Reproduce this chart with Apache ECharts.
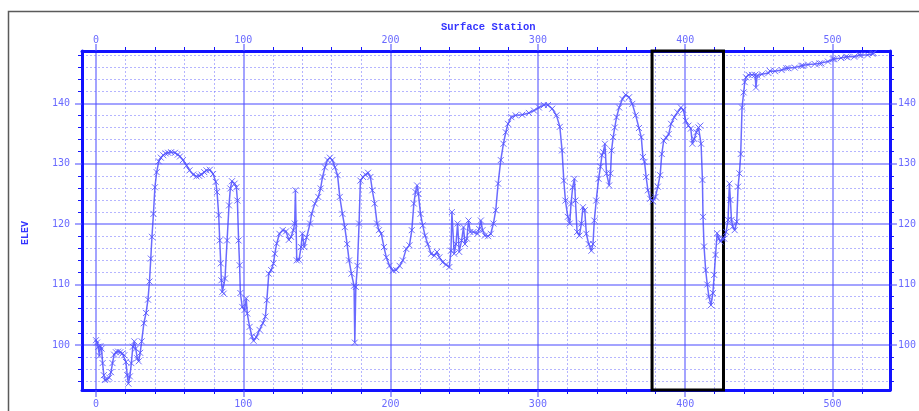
<!DOCTYPE html>
<html>
<head>
<meta charset="utf-8">
<title>Surface Station profile</title>
<script src="https://cdn.jsdelivr.net/npm/echarts@6/dist/echarts.min.js"></script>
<style>
  html, body { margin: 0; padding: 0; background: #ffffff; }
  #chart { width: 919px; height: 411px; }
</style>
</head>
<body>
<div id="chart"></div>
<script>
// Surveyed profile: station along the line and ground elevation at that station
const stations = [
  0, 0.7, 1.5, 2.3, 3, 3.8, 4.5, 5.3, 6, 7.5, 9, 10.2, 11.2, 12.3, 13.5, 15, 16.5, 18, 19.2, 20.3,
  21.2, 22, 23, 24, 25, 26, 27, 28, 29, 30, 31, 32.5, 34, 35.3, 36.3, 37.2, 38, 39, 40, 41.2,
  42.6, 44, 45.7, 47.3, 49, 51, 53.6, 55.5, 57, 59, 61.5, 63.5, 66, 68.2, 70, 71.6, 73.5, 75, 77.3, 79.5,
  81.3, 82.2, 83.3, 84, 84.7, 85.1, 85.8, 86.7, 87.6, 89, 90.3, 91.2, 92.3, 94.1, 95.3, 96, 96.8, 97.5, 98, 99.3,
  100.9, 102, 102.7, 104.3, 105.9, 107, 108.8, 111, 113.3, 115, 116, 117.3, 118.9, 120.5, 121.4, 122.7, 124.5, 126.8, 129, 130.9,
  132.4, 134, 134.9, 135.4, 136.3, 137.8, 139.2, 140.1, 141.4, 143, 145.3, 146.4, 148.6, 150.9, 152.5, 153.8, 155.4, 157.2, 158.8, 160.4,
  162.2, 164, 165.5, 167.3, 168.9, 170.5, 171.8, 173.4, 175.2, 175.7, 176.4, 177.5, 178.6, 179.5, 181.3, 182.9, 184.7, 186.3, 187.6, 189.2,
  190.8, 192.1, 193.7, 195.5, 197.1, 199.3, 201.6, 203.8, 206.1, 208.3, 210.6, 212.8, 214.4, 215.8, 216.9, 218, 218.9, 220.3, 221.8, 223.4,
  225.2, 227.5, 229.7, 231.5, 233.1, 235.4, 237.6, 239.9, 241, 241.6, 243.2, 244.4, 245.5, 246.6, 248.2, 249.5, 250.5, 251.8, 252.9, 254.1,
  256.3, 259, 260.1, 261.3, 262.4, 264, 266.2, 268, 269.8, 271.4, 273, 274.8, 276.6, 278.2, 279.7, 282, 284.9, 289.4, 293.9, 297.3,
  300.7, 304.1, 306.8, 309.7, 312.6, 314.9, 316.4, 317.6, 318.7, 320.3, 321.6, 322.5, 323.6, 324.8, 325.5, 326.6, 328.2, 329.5, 330.6, 331.8,
  332.9, 334.5, 336.3, 337.4, 338.3, 339.6, 341.2, 342.5, 343.5, 344.4, 345.5, 346.6, 348.4, 349.3, 350, 351.1, 352.2, 353.4, 355.2, 357.4,
  359.6, 361.9, 364.1, 366.4, 368.6, 370.2, 371.3, 372.4, 373.5, 374.7, 376.2, 378, 379.8, 381.4, 383, 384.1, 385.4, 387, 388.8, 390.4,
  392.6, 394.8, 397.1, 398.7, 400.4, 402.2, 403.8, 404.9, 406.1, 407.6, 409, 410.3, 410.8, 411.7, 412.1, 412.8, 413.9, 415, 416.1, 417.5,
  418.8, 419.7, 420.6, 421.7, 422.9, 424, 425.1, 426.5, 427.8, 429.1, 430, 430.7, 431.4, 432.3, 433.6, 435, 435.9, 436.8, 437.7, 438.6,
  439.7, 440.4, 441.3, 443, 445.3, 447.5, 448, 448.9, 452, 456.5, 457.5, 461, 465.5, 468.7, 470, 474.4, 478.9, 480, 483.4, 487.9,
  491.2, 492.4, 496.9, 500.2, 501.3, 505.8, 509.3, 510.3, 514.8, 518.2, 519.3, 523.8, 527.1, 528
];
const elevations = [
  100.8, 100.4, 99.7, 98.2, 99.8, 99.4, 97, 95, 94.2, 94.3, 94.6, 95.5, 97, 98.4, 98.8, 98.9, 98.8, 98.6, 98.3, 97.2,
  95, 93.6, 94.8, 97, 99.7, 100.6, 99.4, 97.8, 97.3, 98.7, 100.6, 103.6, 105.3, 107.5, 110.5, 114.3, 117.9, 121.7, 126.1, 128.6,
  130.4, 131, 131.4, 131.7, 131.8, 131.9, 131.8, 131.5, 131.2, 130.6, 129.7, 128.9, 128.2, 127.9, 128, 128.2, 128.6, 128.9, 129, 128.3,
  127, 125.3, 121.5, 117.3, 113.5, 110.7, 108.8, 108.5, 111, 117.3, 123.1, 125.9, 127.1, 126.7, 126.1, 123.9, 117.3, 113.2, 108.6, 106.3,
  105.8, 107.7, 105.2, 103, 101.4, 100.7, 101.3, 102.5, 103.6, 104.7, 107.4, 111.8, 112.4, 113.5, 115.1, 116.8, 118.4, 119, 118.8, 117.4,
  117.9, 119, 120.1, 125.6, 114, 114.1, 116.2, 118.4, 116.2, 117.8, 120.1, 121.7, 123.4, 124.5, 125.9, 127.8, 129.4, 130.6, 131, 130.6,
  129.4, 128.1, 124.5, 121.7, 119.5, 116.7, 114, 111.8, 109.8, 100.4, 109.6, 113.1, 120.1, 127.2, 127.8, 128.2, 128.5, 127.8, 125.6, 123.4,
  120.1, 119, 118.4, 116.2, 114.5, 113.1, 112.3, 112.4, 113.1, 114, 115.9, 116.5, 119, 123.4, 125.3, 126.4, 125, 121.7, 119.8, 118.1,
  116.7, 115.1, 114.8, 115.4, 114.5, 113.7, 113.3, 112.9, 115.6, 122, 115.1, 116.7, 120.1, 115.4, 117.3, 119.5, 116.7, 117.6, 120.6, 118.7,
  118.7, 118.4, 119.2, 120.6, 119, 118.1, 118, 118.4, 120.1, 122.3, 126.7, 130.6, 133.3, 135.2, 136.6, 137.7, 138, 138.1, 138.4, 138.8,
  139.3, 139.7, 139.7, 139.1, 138, 136.1, 132.2, 127.2, 123.9, 121.2, 120.1, 123.4, 126.1, 127.5, 123.9, 118.7, 118.1, 120.1, 122.8, 122.3,
  118.4, 116.7, 115.6, 116.7, 120.6, 123.9, 127.5, 129.5, 131.4, 131.9, 133.3, 128.4, 126.4, 128.4, 132.2, 134.4, 136, 137.7, 139.3, 140.7,
  141.4, 141, 139.9, 138, 135.9, 134.4, 131.1, 130.3, 127.8, 125.6, 124.2, 123.8, 124.5, 126.2, 128.1, 131.6, 133.8, 134.3, 134.9, 136.6,
  137.7, 138.5, 139.3, 138.9, 137.1, 136.3, 135.8, 133.3, 134.1, 135.2, 136, 136.3, 133.3, 127.3, 121.2, 116.3, 112.4, 110, 108, 106.6,
  108.6, 111.6, 114.9, 118.5, 117.6, 117.1, 117.6, 117.6, 118.7, 120.7, 126.7, 124, 120.7, 119.6, 119, 120.4, 126.2, 128.4, 131.6, 139.3,
  141.8, 143.5, 144.3, 144.7, 144.7, 144.7, 142.6, 144.6, 144.8, 145, 145.35, 145.3, 145.5, 145.8, 145.8, 145.9, 146.2, 146.2, 146.4, 146.5,
  146.6, 146.6, 146.9, 147.3, 147.3, 147.5, 147.7, 147.6, 147.7, 148, 147.9, 148, 148.2, 148.3
];

// Tick positions
const xMajorTicks = [0, 100, 200, 300, 400, 500];
const xMinorTicks = [20, 40, 60, 80, 120, 140, 160, 180, 220, 240, 260, 280, 320, 340, 360, 380, 420, 440, 460, 480, 520];
const yMajorTicks = [100, 110, 120, 130, 140];
const yMinorTicks = [94, 96, 98, 102, 104, 106, 108, 112, 114, 116, 118, 122, 124, 126, 128, 132, 134, 136, 138, 142, 144, 146, 148];

// Station window outlined on the profile
const highlightStations = [377.5, 426];

// Plot extents
const X_MIN = -9.5, X_MAX = 539;
const Y_MIN = 92.55, Y_MAX = 148.65;

const FRAME = '#1212ff';
const MAJOR = 'rgba(80,80,255,0.7)';
const MINOR = 'rgba(120,120,255,0.55)';
const LABEL = '#6a6aff';
const FONT = '"DejaVu Sans Mono", "Liberation Mono", monospace';

function xAxisDef(position, ticks, major) {
  return {
    type: 'value', position: position, min: X_MIN, max: X_MAX,
    axisLine: { show: major, onZero: false, lineStyle: { color: FRAME, width: 3 } },
    axisTick: { show: true, customValues: ticks, length: major ? 7 : 4,
      lineStyle: { color: major ? MAJOR : FRAME, width: major ? 1.5 : 1 } },
    axisLabel: major
      ? { show: true, customValues: ticks, color: LABEL, fontFamily: FONT, fontSize: 10, margin: position === 'top' ? 6 : 9.5 }
      : { show: false },
    splitLine: position === 'top'
      ? { show: true, lineStyle: major ? { color: MAJOR, width: 1.5 } : { color: MINOR, width: 1, type: [2, 2] } }
      : { show: false }
  };
}

function yAxisDef(position, ticks, major) {
  return {
    type: 'value', position: position, min: Y_MIN, max: Y_MAX,
    axisLine: { show: major, onZero: false, lineStyle: { color: FRAME, width: 3 } },
    axisTick: { show: true, customValues: ticks, length: major ? 7 : 4,
      lineStyle: { color: major ? MAJOR : FRAME, width: major ? 1.5 : 1 } },
    axisLabel: major
      ? { show: true, customValues: ticks, color: LABEL, fontFamily: FONT, fontSize: 10, margin: position === 'left' ? 12 : 8 }
      : { show: false },
    splitLine: position === 'left'
      ? { show: true, lineStyle: major ? { color: MAJOR, width: 1.5 } : { color: MINOR, width: 1, type: [2, 2] } }
      : { show: false }
  };
}

const chart = echarts.init(document.getElementById('chart'), null, { renderer: 'canvas' });

chart.setOption({
  backgroundColor: '#ffffff',
  animation: false,
  title: {
    text: 'Surface Station', left: 441, top: 22, padding: 0,
    textStyle: { fontFamily: '"Liberation Mono", monospace', fontWeight: 'bold', fontSize: 10.5, color: '#3434ff' }
  },
  graphic: [
    {
      type: 'rect', z: -10, silent: true,
      shape: { x: 8.5, y: 11.5, width: 1200, height: 1200 },
      style: { fill: 'none', stroke: '#5a5a5a', lineWidth: 1.5 }
    },
    {
      type: 'text', x: 25, y: 233, rotation: Math.PI / 2, silent: true,
      style: { text: 'ELEV', fill: '#3434ff', font: 'bold 10px "Liberation Mono", monospace',
        align: 'center', verticalAlign: 'middle' }
    }
  ],
  grid: { left: 82, top: 51, right: 25, bottom: 21, containLabel: false },
  xAxis: [
    xAxisDef('top', xMajorTicks, true),
    xAxisDef('top', xMinorTicks, false),
    xAxisDef('bottom', xMajorTicks, true),
    xAxisDef('bottom', xMinorTicks, false)
  ],
  yAxis: [
    yAxisDef('left', yMajorTicks, true),
    yAxisDef('left', yMinorTicks, false),
    yAxisDef('right', yMajorTicks, true),
    yAxisDef('right', yMinorTicks, false)
  ],
  series: [
    {
      name: 'ELEV', type: 'line', xAxisIndex: 0, yAxisIndex: 0, z: 3,
      data: stations.map((s, i) => [s, elevations[i]]),
      showSymbol: true,
      symbol: 'path://M0,0L10,10M10,0L0,10',
      symbolSize: 6,
      itemStyle: { color: 'rgba(0,0,0,0)', borderColor: 'rgba(85,85,255,0.85)', borderWidth: 1 },
      lineStyle: { color: 'rgba(70,70,255,0.8)', width: 1.5 },
      markArea: {
        silent: true,
        itemStyle: { color: 'rgba(0,0,0,0)', borderColor: '#000000', borderWidth: 3 },
        data: [[
          { xAxis: highlightStations[0], yAxis: Y_MIN },
          { xAxis: highlightStations[1], yAxis: Y_MAX }
        ]]
      }
    }
  ]
});
</script>
</body>
</html>
